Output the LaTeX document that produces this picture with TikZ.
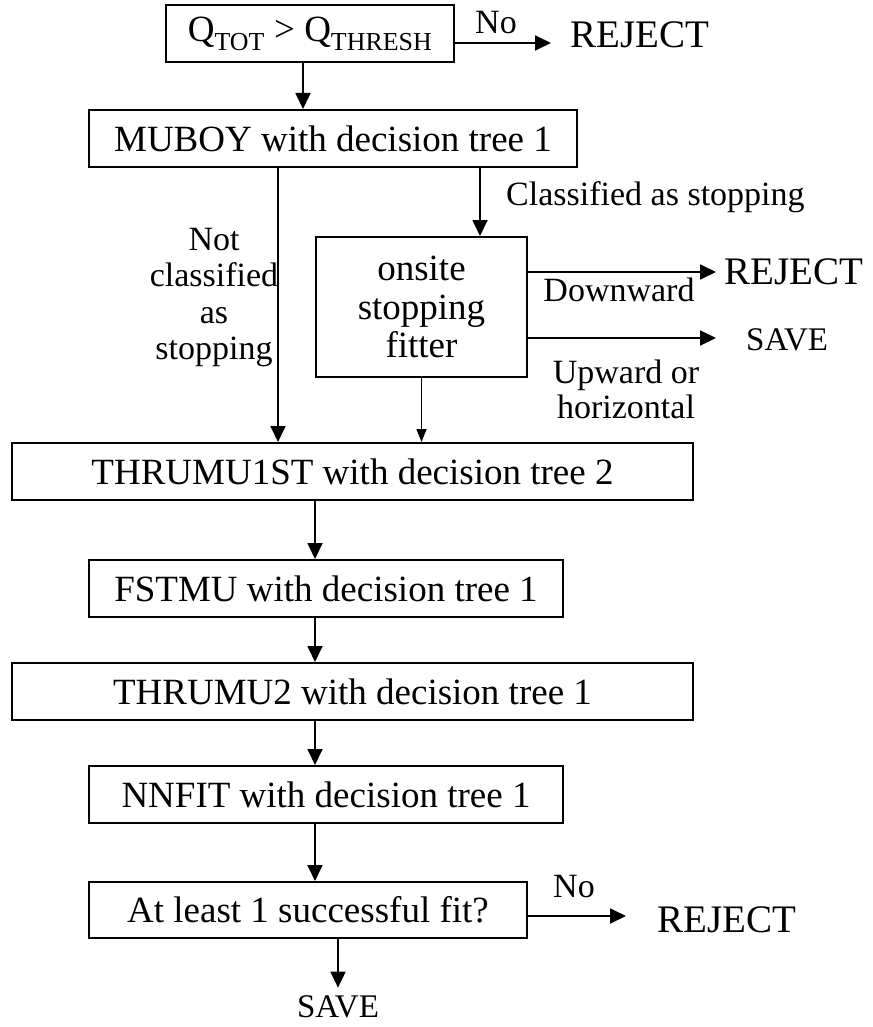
\documentclass[tikz,border=0pt]{standalone}
\usepackage{fontspec}
\setmainfont{Liberation Serif}
\usetikzlibrary{arrows.meta}

\begin{document}
\begin{tikzpicture}[x=1pt, y=-1pt,
    box/.style={draw, line width=2pt, minimum height=57, inner sep=0,
      font=\fontsize{37}{44}\selectfont},
    lbl/.style={inner sep=0, align=center, font=\fontsize{34}{36.5}\selectfont},
    rejtext/.style={inner sep=0, font=\fontsize{39}{44}\selectfont},
    savetext/.style={inner sep=0, font=\fontsize{33}{38}\selectfont},
    arr/.style={line width=1.8pt, -{Triangle[length=16pt, width=15pt]}},
    arrs/.style={line width=1.5pt, -{Triangle[length=13pt, width=10pt]}}]
  \useasboundingbox (0,0) rectangle (872,1027);
  % boxes
  \node[box, minimum width=288] (q) at (310,34)
    {Q\textsubscript{TOT} > Q\textsubscript{THRESH}};
  \node[box, minimum width=488] (muboy) at (333,138.5) {MUBOY with decision tree 1};
  \node[box, minimum width=211, minimum height=140, align=center,
    font=\fontsize{37}{38.5}\selectfont] (onsite) at (421.5,307)
    {onsite\\stopping\\fitter};
  \node[box, minimum width=681] (thru1) at (352.5,471.5) {THRUMU1ST with decision tree 2};
  \node[box, minimum width=474] (fstmu) at (326,588.5) {FSTMU with decision tree 1};
  \node[box, minimum width=681] (thru2) at (352.5,691.5) {THRUMU2 with decision tree 1};
  \node[box, minimum width=474] (nnfit) at (326,794.5) {NNFIT with decision tree 1};
  \node[box, minimum width=438, minimum height=56] (atleast) at (308,910)
    {At least 1 successful fit?};
  % outcomes
  \node[rejtext, anchor=west] (rejA) at (570,35) {REJECT};
  \node[rejtext, anchor=west] (rejB) at (724,272) {REJECT};
  \node[savetext, anchor=west] (saveB) at (746,340) {SAVE};
  \node[rejtext, anchor=west] (rejC) at (657,920) {REJECT};
  \node[savetext] (saveC) at (338,1007) {SAVE};
  % labels
  \node[lbl] (noA) at (496,23) {No};
  \node[lbl, anchor=west] (clas) at (506,197) {Classified as stopping};
  \node[lbl] (notc) at (214,297.5) {Not\\classified\\as\\stopping};
  \node[lbl] (down) at (619,290) {Downward};
  \node[lbl, font=\fontsize{34}{35}\selectfont] (upw) at (626,389.5) {Upward or\\horizontal};
  \node[lbl] (noC) at (574,887) {No};
  % columns of the down arrows
  \coordinate (xq) at (303,0);
  \coordinate (xl) at (278,0);
  \coordinate (xr) at (480,0);
  \coordinate (xm) at (315,0);
  % arrows
  \draw[arr, shorten >=19pt] ([yshift=-9pt]q.east) -- ([yshift=-8pt]rejA.west);
  \draw[arr] (q.south -| xq) -- (muboy.north -| xq);
  \draw[arr] (muboy.south -| xr) -- (onsite.north -| xr);
  \draw[arr] (muboy.south -| xl) -- (thru1.north -| xl);
  \draw[arr, shorten >=8pt] ([yshift=35pt]onsite.east) -- ([yshift=35pt]onsite.east -| rejB.west);
  \draw[arr, shorten >=30pt] ([yshift=-31pt]onsite.east) -- ([yshift=-31pt]onsite.east -| saveB.west);
  \draw[arrs] (onsite.south) -- (thru1.north -| onsite.south);
  \draw[arr] (thru1.south -| xm) -- (fstmu.north -| xm);
  \draw[arr] (fstmu.south -| xm) -- (thru2.north -| xm);
  \draw[arr] (thru2.south -| xm) -- (nnfit.north -| xm);
  \draw[arr] (nnfit.south -| xm) -- (atleast.north -| xm);
  \draw[arr, shorten >=31pt] ([yshift=-6pt]atleast.east) -- ([yshift=-6pt]atleast.east -| rejC.west);
  \draw[arr, shorten >=8pt] (atleast.south -| saveC.north) -- (saveC.north);
\end{tikzpicture}
\end{document}
